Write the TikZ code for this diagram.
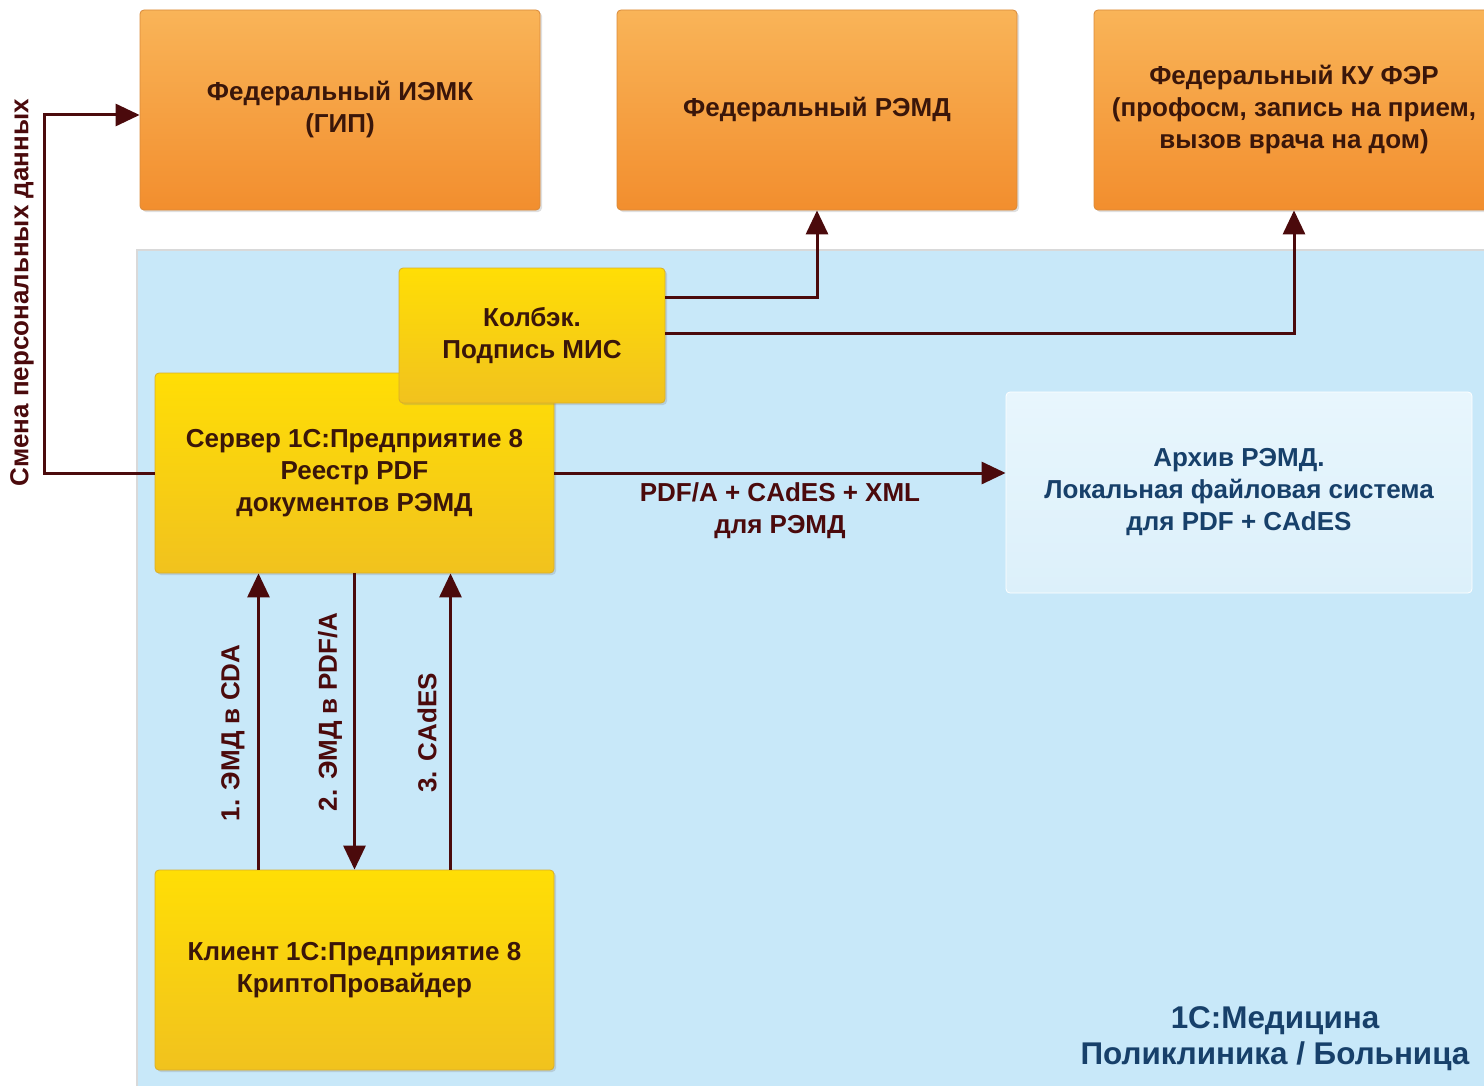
\documentclass[tikz,border=0pt]{standalone}
\usepackage{fontspec}
\setmainfont{Liberation Sans}
\usetikzlibrary{arrows.meta,shadows}

\definecolor{fedtop}{HTML}{F9B458}
\definecolor{fedbot}{HTML}{F28E2E}
\definecolor{fedline}{HTML}{D98A3A}
\definecolor{mistop}{HTML}{FFDE05}
\definecolor{misbot}{HTML}{F1C21E}
\definecolor{misline}{HTML}{D9AE2A}
\definecolor{boxtext}{HTML}{3A160A}
\definecolor{linkcol}{HTML}{4B0A0C}
\definecolor{zone}{HTML}{C8E8F9}
\definecolor{archtop}{HTML}{E8F6FD}
\definecolor{archbot}{HTML}{DCF0FA}
\definecolor{bluetext}{HTML}{17406A}

\tikzset{
  txt/.style={font=\bfseries\fontsize{13}{16}\selectfont, align=center},
  fedbox/.style={txt, draw=fedline, rounded corners=2pt, top color=fedtop, bottom color=fedbot,
    text=boxtext, minimum width=200pt, minimum height=100pt,
    drop shadow={opacity=0.25, shadow xshift=1pt, shadow yshift=-1pt}},
  misbox/.style={txt, draw=misline, rounded corners=2pt, top color=mistop, bottom color=misbot,
    text=boxtext, minimum width=199.5pt, minimum height=100pt,
    drop shadow={opacity=0.25, shadow xshift=1pt, shadow yshift=-1pt}},
  archbox/.style={txt, draw=white, rounded corners=2pt, top color=archtop, bottom color=archbot,
    text=bluetext, minimum width=233pt, minimum height=100.5pt},
  link/.style={draw=linkcol, line width=1.5pt, -{Triangle[length=12pt,width=11pt]}},
  lbl/.style={txt, text=linkcol},
}

\begin{document}
\begin{tikzpicture}[x=0.5pt,y=-0.5pt]
  \useasboundingbox (0,0) rectangle (1484,1086);
  % zone 1C:Medicina
  \filldraw[fill=zone, draw=black!15, line width=0.8pt] (137,250) rectangle (1500,1100);
  \node[txt, text=bluetext, font=\bfseries\fontsize{15.7}{18}\selectfont] (zn) at (1275,1039)
    {1С:Медицина\\Поликлиника / Больница};

  % federal services
  \node[fedbox] (iemk) at (340,110) {Федеральный ИЭМК\\(ГИП)};
  \node[fedbox] (remd) at (817,110) {Федеральный РЭМД};
  \node[fedbox] (ku)   at (1294,110) {Федеральный КУ ФЭР\\(профосм, запись на прием,\\вызов врача на дом)};

  % 1C boxes
  \node[misbox] (srv) at (354.5,473) {Сервер 1С:Предприятие 8\\Реестр PDF\\документов РЭМД};
  \node[misbox, minimum width=133pt, minimum height=67.5pt] (kb) at (532,335.5) {Колбэк.\\Подпись МИС};
  \node[misbox] (cli) at (354.5,970) {Клиент 1С:Предприятие 8\\КриптоПровайдер};
  \node[archbox] (arch) at (1239,492.5) {Архив РЭМД.\\Локальная файловая система\\для PDF + CAdES};

  % connectors
  \draw[link] (srv.west) -- ++(-110,0) |- ([yshift=-2.5pt]iemk.west);
  \node[lbl, rotate=90] (pers) at (22,293) {Смена персональных данных};
  \draw[link] ([yshift=19pt]kb.east) -| (remd.south);
  \draw[link] ([yshift=1pt]kb.east) -| (ku.south);
  \draw[link] (srv.east) -- (srv.east -| arch.west);
  \node[lbl] (fmt) at (780,511) {PDF/A + CAdES + XML\\для РЭМД};

  \draw[link] ([xshift=-48pt]cli.north) -- ([xshift=-48pt]srv.south);
  \draw[link] (srv.south) -- (cli.north);
  \draw[link] ([xshift=48pt]cli.north) -- ([xshift=48pt]srv.south);
  \node[lbl, rotate=90] (s1) at (233,733) {1. ЭМД в CDA};
  \node[lbl, rotate=90] (s2) at (330,712) {2. ЭМД в PDF/A};
  \node[lbl, rotate=90] (s3) at (427,733) {3. CAdES};
\end{tikzpicture}
\end{document}
